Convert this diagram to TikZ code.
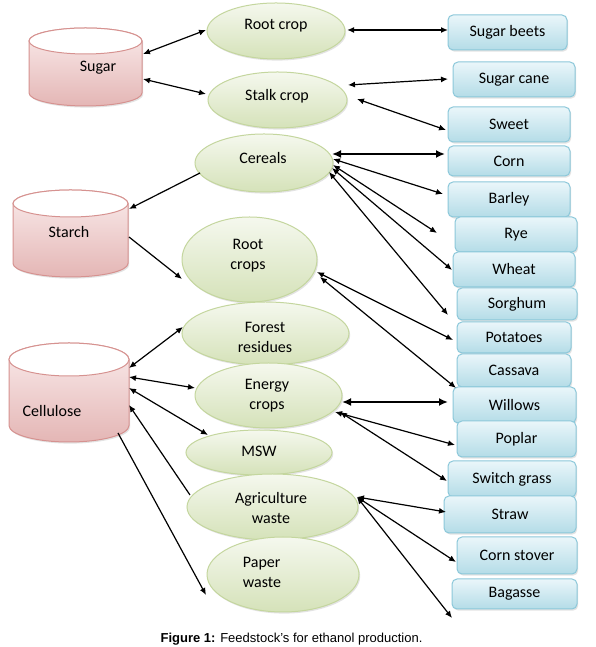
\documentclass[tikz,border=0pt]{standalone}
\usepackage{fontspec}
\setmainfont{Carlito}
\newfontfamily\capfont{Liberation Sans}
\usetikzlibrary{shapes.geometric,arrows.meta,shadows}
\definecolor{gfillA}{RGB}{245,248,238}
\definecolor{gfillB}{RGB}{213,226,185}
\definecolor{gdraw}{RGB}{196,214,158}
\definecolor{bfillA}{RGB}{234,246,250}
\definecolor{bfillB}{RGB}{180,220,231}
\definecolor{bdraw}{RGB}{140,200,218}
\definecolor{pfillA}{RGB}{250,236,236}
\definecolor{pfillB}{RGB}{228,182,181}
\definecolor{pdraw}{RGB}{214,146,144}
\newcommand\drum[5]{% cx, Ytop, Ybot, rx, ry
  \path[drumbody] (#1-#4,#2) -- (#1-#4,#3)
    arc[start angle=180,end angle=360,x radius=#4pt,y radius=#5pt]
    -- (#1+#4,#2)
    arc[start angle=0,end angle=180,x radius=#4pt,y radius=#5pt] -- cycle;
  \draw[pdraw,line width=1pt,fill=white] (#1,#2) ellipse[x radius=#4pt,y radius=#5pt];
}
\begin{document}
\begin{tikzpicture}[x=1pt,y=1pt,
  softshadow/.style={drop shadow={opacity=0.22,shadow xshift=1.2pt,shadow yshift=-1.6pt}},
  lbl/.style={font=\fontsize{16}{20}\selectfont,align=center,inner sep=0pt,text=black},
  ell/.style={ellipse,draw=gdraw,line width=1pt,top color=gfillA,bottom color=gfillB,inner sep=0pt,softshadow},
  box/.style={rectangle,rounded corners=5pt,draw=bdraw,line width=1pt,top color=bfillA,bottom color=bfillB,inner sep=0pt,font=\fontsize{16}{20}\selectfont,softshadow},
  drumbody/.style={draw=pdraw,line width=1pt,top color=pfillA,bottom color=pfillB,softshadow},
  drumnode/.style={inner sep=0pt},
  link/.style={line width=1.2pt,>={Latex[length=7pt,width=6pt]}},
  boldlink/.style={line width=2.5pt,>={Latex[length=9pt,width=8pt]}}
]
\fill[white] (0,0) rectangle (595,647);
\useasboundingbox (0,0) rectangle (595,647);

% ---- cylinders
\drum{85.5}{606}{554}{56.5}{13}
\node[drumnode,minimum width=113pt,minimum height=78pt] (sugar) at (85.5,580) {};
\node[lbl] (sugarT) at (98,579) {Sugar};
\drum{70.5}{443.5}{383.5}{57.5}{13.5}
\node[drumnode,minimum width=115pt,minimum height=87pt] (starch) at (70.5,413.5) {};
\node[lbl] (starchT) at (69,415) {Starch};
\drum{69}{287.5}{221.5}{60}{16.5}
\node[drumnode,minimum width=120pt,minimum height=99pt] (cellulose) at (69,254.5) {};
\node[lbl] (celluloseT) at (52,236) {Cellulose};

% ---- ellipses
\node[ell,minimum width=138pt,minimum height=56pt] (rootcrop) at (276,616) {};
\node[lbl] (rootcropT) at (276,621) {Root crop};
\node[ell,minimum width=139pt,minimum height=56pt] (stalk) at (277.5,547) {};
\node[lbl] (stalkT) at (277,551) {Stalk crop};
\node[ell,minimum width=138pt,minimum height=58pt] (cereals) at (264,484) {};
\node[lbl] (cerealsT) at (263,489) {Cereals};
\node[ell,minimum width=135pt,minimum height=85pt] (rootcrops) at (249.5,387.5) {};
\node[lbl] (rootcropsT) at (248,391) {Root\\crops};
\node[ell,minimum width=167pt,minimum height=63pt] (forest) at (265.5,313.5) {};
\node[lbl] (forestT) at (265,310) {Forest\\residues};
\node[ell,minimum width=147pt,minimum height=65pt] (energy) at (268.5,251.5) {};
\node[lbl] (energyT) at (267,251) {Energy\\crops};
\node[ell,minimum width=146pt,minimum height=45pt] (msw) at (259,194.5) {};
\node[lbl] (mswT) at (259,196) {MSW};
\node[ell,minimum width=171pt,minimum height=66pt] (agri) at (272.5,140) {};
\node[lbl] (agriT) at (271,139) {Agriculture\\waste};
\node[ell,minimum width=152pt,minimum height=75pt] (paper) at (283,72.5) {};
\node[lbl,align=left] (paperT) at (262,75) {Paper\\waste};

% ---- boxes
\node[box,minimum width=119pt,minimum height=35pt] (beets) at (507.5,614.5) {Sugar beets};
\node[box,minimum width=122pt,minimum height=35pt] (cane) at (514,567.5) {Sugar cane};
\node[box,minimum width=122pt,minimum height=35pt] (sweet) at (509,522.5) {Sweet};
\node[box,minimum width=122pt,minimum height=30pt] (corn) at (509,486) {Corn};
\node[box,minimum width=122pt,minimum height=35pt] (barley) at (509,447.5) {Barley};
\node[box,minimum width=122pt,minimum height=35pt] (rye) at (516,412.5) {Rye};
\node[box,minimum width=122pt,minimum height=35pt] (wheat) at (514,377.5) {Wheat};
\node[box,minimum width=120pt,minimum height=32pt] (sorghum) at (517,343) {Sorghum};
\node[box,minimum width=114pt,minimum height=31pt] (potatoes) at (514,309.5) {Potatoes};
\node[box,minimum width=114pt,minimum height=33pt] (cassava) at (514,276.5) {Cassava};
\node[box,minimum width=123pt,minimum height=36pt] (willows) at (514.5,242) {Willows};
\node[box,minimum width=119pt,minimum height=36pt] (poplar) at (516.5,208) {Poplar};
\node[box,minimum width=128pt,minimum height=36pt] (switch) at (512,168) {Switch grass};
\node[box,minimum width=132pt,minimum height=37pt] (straw) at (510,132.5) {Straw};
\node[box,minimum width=120pt,minimum height=37pt] (stover) at (517,91.5) {Corn stover};
\node[box,minimum width=125pt,minimum height=30pt] (bagasse) at (514.5,53) {Bagasse};

% ---- connectors
\draw[link,<->] ([shift={(57.5,13)}]sugar.center) -- ([shift={(-70,1)}]rootcrop.center);
\draw[link,<->] ([shift={(57.5,-12)}]sugar.center) -- ([shift={(-71.5,6)}]stalk.center);
\draw[link,line width=1.8pt,<->] ([shift={(71,1)}]rootcrop.center) -- ([shift={(-59.5,2.5)}]beets.center);
\draw[link,<->] ([shift={(70.5,15)}]stalk.center) -- ([shift={(-66,0.5)}]cane.center);
\draw[link,<->] ([shift={(79.5,1)}]stalk.center) -- ([shift={(-63,-5.5)}]sweet.center);
\draw[link,->] ([shift={(-64,-10)}]cereals.center) -- ([shift={(58.5,24.5)}]starch.center);
\draw[link,->] ([shift={(58.5,-3.5)}]starch.center) -- ([shift={(-67.5,-19.5)}]rootcrops.center);
\draw[boldlink,<->] ([shift={(68,9)}]cereals.center) -- ([shift={(-64,7)}]corn.center);
\draw[link,<->] ([shift={(69,4)}]cereals.center) -- ([shift={(-66,5.5)}]barley.center);
\draw[link,<->] ([shift={(69,-2)}]cereals.center) -- ([shift={(-79,1.5)}]rye.center);
\draw[link,<->] ([shift={(68,-5)}]cereals.center) -- ([shift={(-62,-0.5)}]wheat.center);
\draw[link,<->] ([shift={(65,-9)}]cereals.center) -- ([shift={(-69,-11)}]sorghum.center);
\draw[link,<->] ([shift={(67.5,-12.5)}]rootcrops.center) -- ([shift={(-61,-2.5)}]potatoes.center);
\draw[link,<->] ([shift={(70.5,-17.5)}]rootcrops.center) -- ([shift={(-58,-17.5)}]cassava.center);
\draw[link,<->] ([shift={(60,24.5)}]cellulose.center) -- ([shift={(-82.5,6.5)}]forest.center);
\draw[link,<->] ([shift={(60,15.5)}]cellulose.center) -- ([shift={(-73.5,7.5)}]energy.center);
\draw[link,<->] ([shift={(60,4.5)}]cellulose.center) -- ([shift={(-51,17.5)}]msw.center);
\draw[link,<-] ([shift={(60,-12.5)}]cellulose.center) -- ([shift={(-82.5,12)}]agri.center);
\draw[link,->] ([shift={(49,-40.5)}]cellulose.center) -- ([shift={(-77,-20.5)}]paper.center);
\draw[boldlink,<->] ([shift={(73.5,-6.5)}]energy.center) -- ([shift={(-66.5,3)}]willows.center);
\draw[link,<->] ([shift={(66.5,-16.5)}]energy.center) -- ([shift={(-61.5,-6)}]poplar.center);
\draw[link,<->] ([shift={(71.5,-16.5)}]energy.center) -- ([shift={(-65,-2)}]switch.center);
\draw[link,<->] ([shift={(84.5,10)}]agri.center) -- ([shift={(-64,2.5)}]straw.center);
\draw[link,<->] ([shift={(84.5,10)}]agri.center) -- ([shift={(-61,-6.5)}]stover.center);
\draw[link,<->] ([shift={(84.5,10)}]agri.center) -- ([shift={(-62.5,-24)}]bagasse.center);

% ---- caption
\node[font=\capfont\fontsize{13}{15}\selectfont,inner sep=0pt] (caption) at (291.5,8) {\textbf{Figure 1:} Feedstock’s for ethanol production.};
\end{tikzpicture}
\end{document}
